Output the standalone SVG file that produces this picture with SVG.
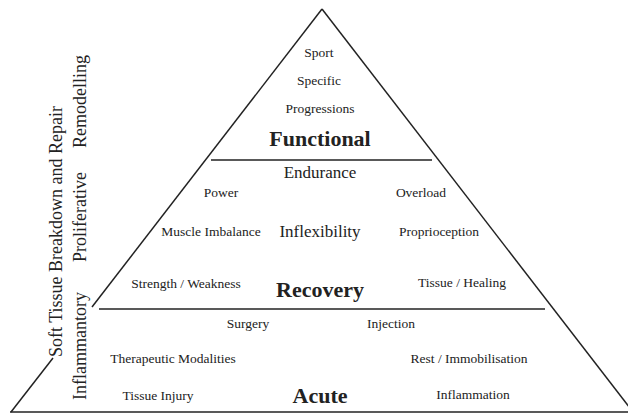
<svg xmlns="http://www.w3.org/2000/svg" width="628" height="415" viewBox="0 0 628 415">
<style>
text{font-family:"Liberation Serif","Times New Roman",serif;fill:#222}
.s{font-size:13.5px}
.m{font-size:17px}
.b{font-size:22px;font-weight:bold}
.v{font-size:18px}
.c{text-anchor:middle}
line{stroke:#222;stroke-width:1.5}
</style>
<rect width="628" height="415" fill="#fff"/>
<g id="connectors">
<line x1="322" y1="9" x2="92" y2="307"/>
<line x1="53" y1="358" x2="11" y2="412"/>
<line x1="322" y1="9" x2="633" y2="412"/>
<line x1="10" y1="412" x2="628" y2="412"/>
<line x1="211" y1="160" x2="432" y2="160"/>
<line x1="99" y1="309" x2="545" y2="309"/>
</g>
<g id="functional">
<text class="s c" x="319" y="57">Sport</text>
<text class="s c" x="319" y="85">Specific</text>
<text class="s c" x="320" y="113">Progressions</text>
<text class="b c" x="320" y="146">Functional</text>
</g>
<g id="recovery">
<text class="m c" x="320" y="178">Endurance</text>
<text class="s c" x="221" y="197">Power</text>
<text class="s c" x="421" y="197">Overload</text>
<text class="s c" x="211" y="236">Muscle Imbalance</text>
<text class="m c" x="320" y="237">Inflexibility</text>
<text class="s c" x="439" y="236">Proprioception</text>
<text class="s c" x="186" y="288">Strength / Weakness</text>
<text class="b c" x="320" y="297">Recovery</text>
<text class="s c" x="462" y="287">Tissue / Healing</text>
</g>
<g id="acute">
<text class="s c" x="248" y="328">Surgery</text>
<text class="s c" x="391" y="328">Injection</text>
<text class="s c" x="173" y="363">Therapeutic Modalities</text>
<text class="s c" x="469" y="363">Rest / Immobilisation</text>
<text class="s c" x="158" y="400">Tissue Injury</text>
<text class="b c" x="320" y="403">Acute</text>
<text class="s c" x="473" y="399">Inflammation</text>
</g>
<g id="phases">
<text class="v" transform="translate(62,357) rotate(-90)">Soft Tissue Breakdown and Repair</text>
<text class="v" transform="translate(86,400) rotate(-90)">Inflammantory</text>
<text class="v" transform="translate(86,262) rotate(-90)">Proliferative</text>
<text class="v" transform="translate(86,148) rotate(-90)">Remodelling</text>
</g>
</svg>
